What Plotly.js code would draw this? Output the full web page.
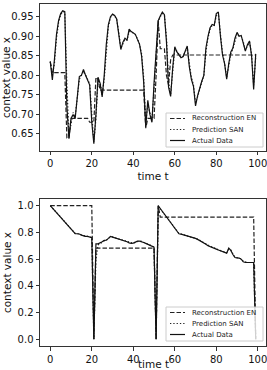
<!DOCTYPE html>
<html>
<head>
<meta charset="utf-8">
<script src="https://cdn.plot.ly/plotly-3.0.1.min.js"></script>
<style>html,body{margin:0;padding:0;background:#fff;}#chart{width:267px;height:370px;}</style>
</head>
<body>
<div id="chart"></div>
<script>
// ---- data ----
const t = [];
for (let i = 0; i < 100; i++) t.push(i);

const topActual = [0.835,0.788,0.84,0.905,0.94,0.958,0.965,0.963,0.72,0.638,
0.69,0.70,0.69,0.75,0.797,0.80,0.815,0.80,0.786,0.775,
0.68,0.625,0.70,0.795,0.78,0.745,0.80,0.88,0.93,0.95,
0.957,0.953,0.944,0.905,0.866,0.885,0.895,0.89,0.918,0.912,
0.908,0.905,0.892,0.88,0.85,0.784,0.668,0.736,0.70,0.68,
0.78,0.87,0.94,0.952,0.962,0.955,0.885,0.77,0.746,0.82,
0.873,0.86,0.852,0.845,0.848,0.862,0.875,0.822,0.79,0.772,
0.722,0.748,0.77,0.785,0.80,0.87,0.90,0.922,0.93,0.928,
0.958,0.962,0.90,0.852,0.83,0.79,0.83,0.86,0.87,0.895,
0.91,0.90,0.902,0.885,0.862,0.878,0.888,0.85,0.764,0.855];

const topPred = [0.835,0.80,0.83,0.895,0.935,0.955,0.962,0.962,0.78,0.645,
0.675,0.705,0.695,0.74,0.79,0.80,0.81,0.802,0.788,0.778,
0.70,0.63,0.69,0.785,0.782,0.75,0.79,0.87,0.925,0.948,
0.955,0.952,0.944,0.91,0.87,0.88,0.892,0.89,0.912,0.912,
0.908,0.904,0.893,0.88,0.855,0.795,0.68,0.725,0.705,0.685,
0.765,0.86,0.935,0.95,0.958,0.955,0.895,0.785,0.752,0.81,
0.866,0.862,0.853,0.846,0.848,0.86,0.872,0.83,0.795,0.775,
0.73,0.745,0.768,0.783,0.798,0.86,0.895,0.918,0.928,0.928,
0.952,0.96,0.905,0.858,0.832,0.795,0.825,0.855,0.868,0.89,
0.906,0.90,0.9,0.886,0.865,0.875,0.885,0.855,0.775,0.848];

const topRecon = [0.835,0.807,0.807,0.807,0.807,0.807,0.807,0.807,0.64,0.64,
0.69,0.69,0.69,0.69,0.69,0.69,0.69,0.69,0.69,0.68,
0.68,0.68,0.795,0.79,0.762,0.762,0.762,0.762,0.762,0.762,
0.762,0.762,0.762,0.762,0.762,0.762,0.762,0.762,0.762,0.762,
0.762,0.762,0.762,0.762,0.762,0.762,0.665,0.69,0.69,0.69,
0.69,0.80,0.94,0.868,0.868,0.868,0.80,0.775,0.84,0.852,
0.852,0.852,0.852,0.852,0.852,0.852,0.852,0.852,0.852,0.852,
0.852,0.852,0.852,0.852,0.852,0.852,0.852,0.852,0.852,0.852,
0.852,0.852,0.852,0.852,0.852,0.852,0.852,0.852,0.852,0.852,
0.852,0.852,0.852,0.852,0.852,0.852,0.852,0.852,0.852,0.852];

const botActual = [1.0,0.983,0.965,0.947,0.930,0.912,0.895,0.877,0.860,0.842,
0.825,0.807,0.790,0.790,0.788,0.780,0.772,0.770,0.770,0.765,
0.760,0.0,0.715,0.715,0.720,0.730,0.740,0.742,0.755,0.770,
0.765,0.760,0.758,0.752,0.745,0.740,0.735,0.730,0.722,0.718,
0.720,0.728,0.735,0.735,0.732,0.725,0.718,0.710,0.700,0.695,
0.690,0.0,1.0,0.979,0.958,0.937,0.916,0.895,0.874,0.853,
0.832,0.811,0.790,0.787,0.783,0.775,0.770,0.770,0.765,0.760,
0.755,0.748,0.740,0.730,0.722,0.712,0.700,0.695,0.690,0.685,
0.675,0.668,0.662,0.660,0.655,0.645,0.682,0.665,0.635,0.612,
0.610,0.608,0.600,0.580,0.575,0.575,0.575,0.575,0.575,0.0];

const botPred = [1.0,0.985,0.967,0.949,0.932,0.914,0.897,0.879,0.862,0.844,
0.827,0.809,0.792,0.790,0.789,0.782,0.774,0.771,0.770,0.766,
0.762,0.0,0.60,0.705,0.716,0.726,0.737,0.741,0.751,0.766,
0.766,0.761,0.759,0.754,0.747,0.741,0.736,0.731,0.724,0.719,
0.719,0.726,0.733,0.735,0.733,0.727,0.72,0.712,0.703,0.697,
0.692,0.0,0.93,0.975,0.957,0.937,0.917,0.896,0.875,0.855,
0.834,0.813,0.792,0.788,0.784,0.777,0.771,0.770,0.766,0.761,
0.756,0.75,0.742,0.732,0.724,0.714,0.703,0.696,0.691,0.686,
0.678,0.67,0.664,0.66,0.656,0.648,0.675,0.668,0.64,0.616,
0.611,0.609,0.602,0.585,0.577,0.575,0.575,0.575,0.575,0.0];

const botRecon = [1.0,1.0,1.0,1.0,1.0,1.0,1.0,1.0,1.0,1.0,
1.0,1.0,1.0,1.0,1.0,1.0,1.0,1.0,1.0,1.0,
1.0,0.0,0.683,0.683,0.683,0.683,0.683,0.683,0.683,0.683,
0.683,0.683,0.683,0.683,0.683,0.683,0.683,0.683,0.683,0.683,
0.683,0.683,0.683,0.683,0.683,0.683,0.683,0.683,0.683,0.683,
0.683,0.0,1.0,0.915,0.915,0.915,0.915,0.915,0.915,0.915,
0.915,0.915,0.915,0.915,0.915,0.915,0.915,0.915,0.915,0.915,
0.915,0.915,0.915,0.915,0.915,0.915,0.915,0.915,0.915,0.915,
0.915,0.915,0.915,0.915,0.915,0.915,0.915,0.915,0.915,0.915,
0.915,0.915,0.915,0.915,0.915,0.915,0.915,0.915,0.915,0.0];

const seriesNames = ['Reconstruction EN','Prediction SAN','Actual Data'];
const xTitle = 'time t';
const yTitle = 'context value x';
const xTicks = [0,20,40,60,80,100];
const topYTicks = [0.65,0.70,0.75,0.80,0.85,0.90,0.95];
const botYTicks = [0.0,0.2,0.4,0.6,0.8,1.0];

// ---- styles ----
const FONT = 'DejaVu Sans, Arial, sans-serif';
const LW = 1.2;
const styles = [
  {color:'#222', width:LW, dash:'4.5px,2px'},
  {color:'#222', width:LW, dash:'1.3px,2px'},
  {color:'#111', width:LW, dash:'solid'}
];

function mk(y, i, xa, ya){
  return {x:t, y:y, type:'scatter', mode:'lines', name:seriesNames[i],
    line:styles[i], xaxis:xa, yaxis:ya, hoverinfo:'skip', showlegend:false};
}

const data = [
  mk(topRecon,0,'x','y'),
  mk(topPred,1,'x','y'),
  mk(topActual,2,'x','y'),
  mk(botRecon,0,'x2','y2'),
  mk(botPred,1,'x2','y2'),
  mk(botActual,2,'x2','y2')
];

function xax(anchor, titleText){
  return {anchor:anchor, range:[-4.95,103.95], tickvals:xTicks, ticks:'outside', ticklen:3.5,
    tickwidth:0.8, tickcolor:'#000', showgrid:false, zeroline:false, showline:true, mirror:true,
    linecolor:'#333', linewidth:1, tickfont:{family:FONT,size:10,color:'#111'}, ticklabeloverflow:'allow',
    title:{text:titleText, font:{family:FONT,size:10.5,color:'#111'}, standoff:4}, automargin:false};
}
function yax(anchor, domain, range, ticks, fmt){
  return {anchor:anchor, domain:domain, range:range, tickvals:ticks, tickformat:fmt, ticks:'outside', ticklen:3.5,
    tickwidth:0.8, tickcolor:'#000', showgrid:false, zeroline:false, showline:true, mirror:true,
    linecolor:'#333', linewidth:1, tickfont:{family:FONT,size:10,color:'#111'},
    title:{text:yTitle, font:{family:FONT,size:10.5,color:'#111'}, standoff:3}, automargin:false};
}

// ---- manual legends (pixel layout -> paper coords) ----
const M = {l:40, r:1, t:4, b:24}, W = 267, H = 370;
const px = v => (v - M.l) / (W - M.l - M.r);
const py = v => 1 - (v - M.t) / (H - M.t - M.b);
const shapes = [], annotations = [];
function addLegend(top){
  shapes.push({type:'rect', xref:'paper', yref:'paper', x0:px(166), x1:px(263), y0:py(top), y1:py(top+34),
    fillcolor:'rgba(255,255,255,0.8)', line:{color:'#ccc', width:1}, layer:'above'});
  for (let i = 0; i < 3; i++){
    const cy = top + 5.5 + i*11;
    shapes.push({type:'line', xref:'paper', yref:'paper', x0:px(170), x1:px(185), y0:py(cy), y1:py(cy),
      line:styles[i], layer:'above'});
    annotations.push({xref:'paper', yref:'paper', x:px(190), y:py(cy), xanchor:'left', yanchor:'middle',
      text:seriesNames[i], showarrow:false, font:{family:FONT, size:7, color:'#222'}});
  }
}
addLegend(113);
addLegend(307);
// bottom x-axis title, placed at the very bottom edge as in the reference
annotations.push({xref:'paper', yref:'paper', x:0.5, y:py(370.5), xanchor:'center', yanchor:'bottom',
  text:xTitle, showarrow:false, font:{family:FONT, size:10.5, color:'#111'}, borderpad:0});

const layout = {
  width:W, height:H,
  margin:M,
  paper_bgcolor:'#fff', plot_bgcolor:'#fff',
  showlegend:false,
  xaxis: Object.assign(xax('y', xTitle), {domain:[0,1]}),
  yaxis: yax('x',[0.5702,1],[0.6065,0.9825],topYTicks,'.2f'),
  xaxis2: Object.assign(xax('y2', ''), {domain:[0,1]}),
  yaxis2: yax('x2',[0,0.4298],[-0.05,1.05],botYTicks,'.1f'),
  shapes: shapes,
  annotations: annotations
};

Plotly.newPlot('chart', data, layout, {staticPlot:true, displayModeBar:false});
</script>
</body>
</html>
